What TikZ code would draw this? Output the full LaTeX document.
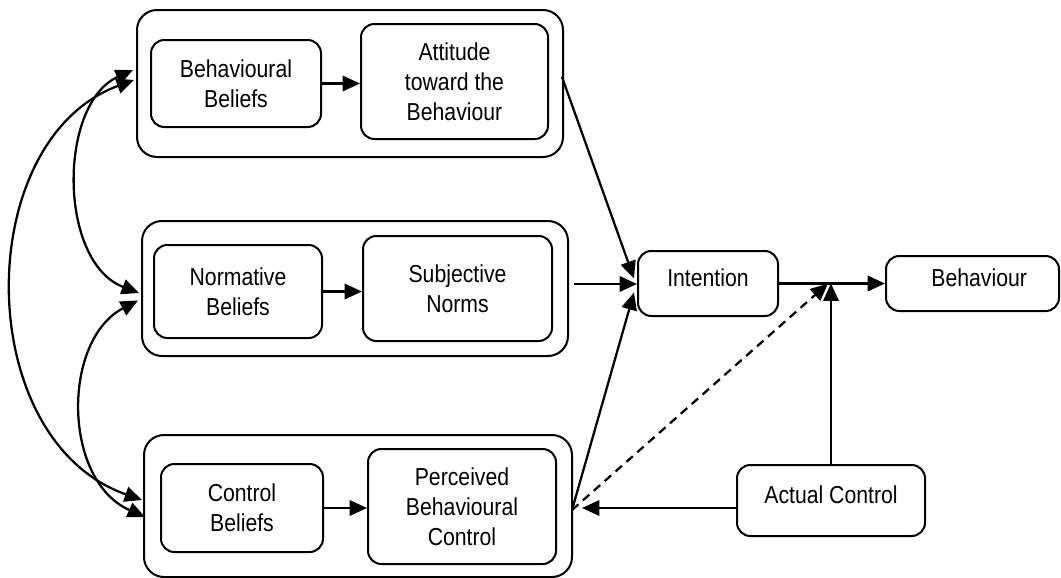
\documentclass[tikz,border=0pt]{standalone}
\usepackage{fontspec}
\setmainfont{Liberation Sans}[FakeStretch=0.865]
\usetikzlibrary{arrows.meta,calc}
\begin{document}
\begin{tikzpicture}[x=0.75pt,y=-0.75pt,
  every node/.style={font=\fontsize{18.4pt}{22.5pt}\selectfont, align=center, inner sep=0pt},
  outerbox/.style={draw, line width=1.5pt, rounded corners=15pt},
  innerbox/.style={draw, line width=1.5pt, rounded corners=10pt},
  onebox/.style={draw, line width=1.5pt, rounded corners=10pt, text height=13pt, text depth=8pt},
  arr/.style={line width=1.7pt, -{Triangle[length=13pt,width=11.5pt]}},
  dbl/.style={line width=1.7pt, {Triangle[length=13pt,width=11.5pt]}-{Triangle[length=13pt,width=11.5pt]}},
  dsh/.style={line width=1.7pt, dash pattern=on 6.4pt off 4.5pt, -{Triangle[length=13pt,width=11.5pt]}}
]
\useasboundingbox (0,0) rectangle (1061,578);
% outer groups
\node[outerbox, minimum width=319.5pt, minimum height=110.25pt] (O1) at (350,83.5) {};
\node[outerbox, minimum width=319.5pt, minimum height=101.25pt] (O2) at (355,288.5) {};
\node[outerbox, minimum width=321pt, minimum height=106.5pt] (O3) at (358,506) {};
% inner boxes
\node[innerbox, minimum width=127.5pt, minimum height=65.25pt] (BB) at (236,83.5) {Behavioural\\Beliefs};
\node[innerbox, minimum width=140.25pt, minimum height=86.25pt] (Att) at (454.5,81.5) {Attitude\\toward the\\Behaviour};
\node[innerbox, minimum width=126pt, minimum height=69.75pt] (NB) at (238,291.5) {Normative\\Beliefs};
\node[innerbox, minimum width=141.75pt, minimum height=78.75pt] (SN) at (457.5,288.5) {Subjective\\Norms};
\node[innerbox, minimum width=121.5pt, minimum height=66pt] (CB) at (242,508) {Control\\Beliefs};
\node[innerbox, minimum width=141pt, minimum height=86.25pt] (PBC) at (462,506.5) {Perceived\\Behavioural\\Control};
% right side
\node[onebox, minimum width=105pt, minimum height=48.75pt] (Int) at (708,283.5) {Intention};
\node[onebox, minimum width=129.75pt, minimum height=41.25pt] (Beh) at (972.5,283.5) {\hspace*{10pt}Behaviour};
\node[onebox, minimum width=141pt, minimum height=53.25pt, text depth=9pt] (AC) at (831,500.5) {Actual Control};
% inner arrows
\draw[arr] (BB.east) -- (BB.east -| Att.west);
\draw[arr] (NB.east) -- (NB.east -| SN.west);
\draw[arr] (CB.east) -- (CB.east -| PBC.west);
% to intention
\coordinate (s1) at ($(O1.east)+(-2,-6.5)$);
\coordinate (s2) at ($(O2.east)+(5,-4.5)$);
\coordinate (s3) at ($(O3.east)+(-1,4)$);
\coordinate (j) at (Int.east -| AC.north);
\draw[arr] (s1) -- ($(Int.west)+(-3,-5)$);
\draw[arr] (s2) -- (s2 -| Int.west);
\draw[arr] (s3) -- ($(Int.west)+(-3,9)$);
\draw[dsh] (s3) -- ($(j)+(-3,0)$);
\draw[arr] (Int.east) -- (Beh.west);
\draw[arr] (AC.north) -- (j);
\coordinate (acw) at ($(AC.west)+(0,7.5)$);
\draw[arr, shorten >=6.75pt] (acw) -- (acw -| O3.east);
% left correlations
\draw[dbl] ($(O1.west)+(-2,-3.5)$) .. controls (-29,140) and (-29,440) .. ($(O3.west)+(-1,-6)$);
\draw[dbl] ($(O1.west)+(-3,-13.5)$) .. controls (58,104) and (58,262) .. ($(O2.west)+(-2,4.5)$);
\draw[dbl] ($(O2.west)+(-3,12)$) .. controls (62,340) and (62,480) .. ($(O3.west)+(2,11)$);
\end{tikzpicture}
\end{document}
